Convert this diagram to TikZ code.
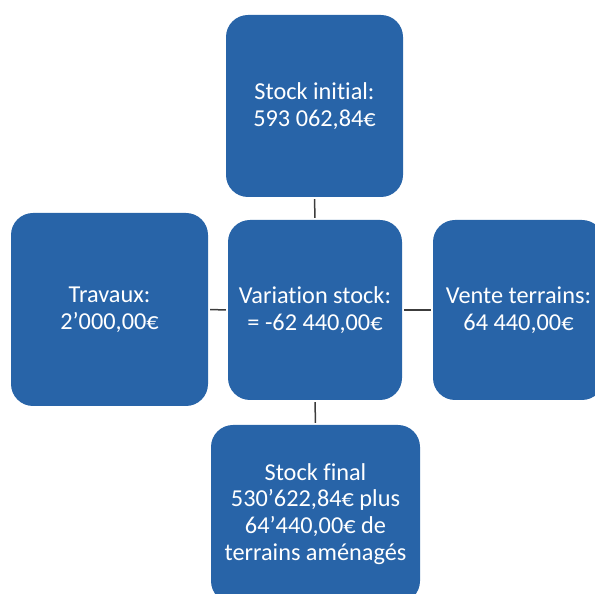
\documentclass[tikz,border=0pt]{standalone}
\usepackage{fontspec}
\setmainfont{Carlito}[RawFeature={-liga}]
\definecolor{boxblue}{RGB}{40,100,168}
\definecolor{linegray}{RGB}{60,60,60}
\begin{document}
\begin{tikzpicture}[x=1pt,y=1pt,
  blk/.style={draw=none, fill=boxblue, rounded corners=22pt, text=white, align=center,
    font=\fontsize{24.3}{26.7}\selectfont, inner sep=0pt},
  conn/.style={draw=linegray, line width=1.5pt, shorten >=2pt, shorten <=2pt}]
\useasboundingbox (0,0) rectangle (595,594);
\begin{scope}
\clip (0,0) rectangle (595,594);
\node[blk, minimum width=177pt, minimum height=182pt] (top) at (314.5,488) {Stock initial:\\593 062,84€};
\node[blk, minimum width=197pt, minimum height=193pt] (left) at (109.5,284.5) {Travaux:\\2’000,00€};
\node[blk, minimum width=174pt, minimum height=180pt] (mid) at (315,284) {Variation stock:\\= -62 440,00€};
\node[blk, minimum width=171pt, minimum height=180pt] (right) at (518.5,284) {Vente terrains:\\64 440,00€};
\node[blk, minimum width=209pt, minimum height=178pt] (bot) at (315.5,80) {Stock final\\530’622,84€ plus\\64’440,00€ de\\terrains aménagés};
\draw[conn] (top.south) -- (mid.north);
\draw[conn] (left.east) -- (mid.west);
\draw[conn] (mid.east) -- (right.west);
\draw[conn] (mid.south) -- (bot.north);
\end{scope}
\end{tikzpicture}
\end{document}
